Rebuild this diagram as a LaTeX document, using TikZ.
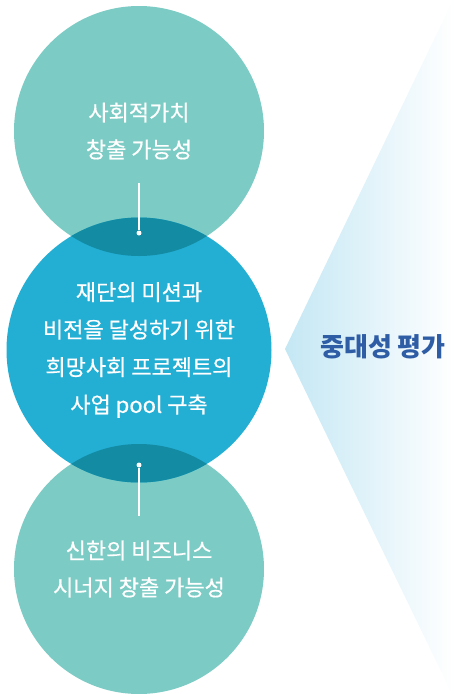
\documentclass[tikz,border=0pt]{standalone}
\usepackage{fontspec}
\setmainfont{Noto Sans CJK KR}
\newfontfamily\medfont{Noto Sans CJK KR}[FakeBold=0.6]
\usetikzlibrary{positioning}
\definecolor{tealc}{HTML}{7CCBC4}
\definecolor{bluec}{HTML}{23AED4}
\definecolor{darkc}{HTML}{128BA3}
\definecolor{titlec}{HTML}{2F5DA5}
\definecolor{fadec}{HTML}{C4E7F4}
\tikzset{bubble/.style={circle,fill=#1,inner sep=0pt,text=white,align=center,
    font=\medfont\fontsize{22}{37}\selectfont},
    whiteline/.style={-,white,line width=1.2pt},
    dot/.style={circle,fill=white,inner sep=0pt,minimum size=5pt}}

\begin{document}
\begin{tikzpicture}[x=1pt,y=-1pt]
        \useasboundingbox (0,0) rectangle (454,694);
        \shade[left color=fadec,right color=white]
            (285,349)--(453,0)--(454,0)--(454,694)--(452,694)--cycle;
        \node[bubble=tealc,minimum size=250pt](social) at (139,131){사회적가치\\창출 가능성};
        \node[bubble=tealc,minimum size=250pt](synergy) at (139,569){신한의 비즈니스\\시너지 창출 가능성};
        \node[bubble=bluec,minimum size=265pt](mission) at (139,350){};
        \begin{scope}
            \clip (139,131) circle (125);
            \fill[darkc] (139,350) circle (132.5);
        \end{scope}
        \begin{scope}
            \clip (139,569) circle (125);
            \fill[darkc] (139,350) circle (132.5);
        \end{scope}
        \node[text=white,align=center,font=\medfont\fontsize{22}{37.5}\selectfont] at (mission)
            {재단의 미션과\\비전을 달성하기 위한\\희망사회 프로젝트의\\사업 pool 구축};
        \coordinate (socialtip) at (139,183);
        \node[dot](socialdot) at (139,233){};
        \coordinate (synergytip) at (139,516);
        \node[dot](synergydot) at (139,465){};
        \draw[whiteline](socialtip)--(socialdot);
        \draw[whiteline](synergydot)--(synergytip);
        \node[text=titlec,font=\fontsize{26}{30}\selectfont\bfseries](title) at (383,347){중대성 평가};
    \end{tikzpicture}
\end{document}
